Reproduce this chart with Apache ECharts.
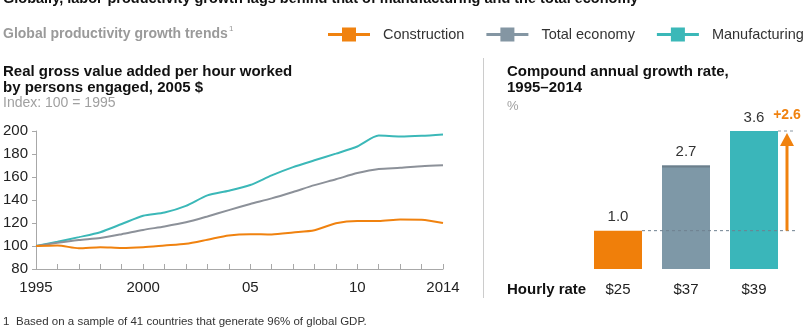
<!DOCTYPE html>
<html lang="en">
<head>
    <meta charset="UTF-8">
    <title>Productivity growth</title>
    <script src="https://cdn.jsdelivr.net/npm/echarts@6/dist/echarts.min.js"></script>
    <style>
        body { margin: 0; background: #fff; }
        #main { width: 810px; height: 331px; }
    </style>
</head>
<body>
<div id="main"></div>
<script type="text/javascript">
    // line chart data, index 100 = 1995
    var years = ['1995','1996','1997','1998','1999','2000','2001','2002','2003','2004',
                 '2005','2006','2007','2008','2009','2010','2011','2012','2013','2014'];
    var construction = [100, 100.5, 98, 99, 98.3, 99, 100.5, 102, 105.5, 109.2,
                        110.3, 110, 111.7, 113.7, 119.7, 121.7, 121.7, 123, 122.9, 120];
    var totalEconomy = [100, 102.8, 105.2, 107, 110.3, 114, 117, 120.6, 125.7, 131.2,
                        136.5, 141.4, 147, 152.9, 158, 163.4, 167, 168, 169.4, 170.3];
    var manufacturing = [100, 103.7, 107.7, 112, 119.1, 126.3, 129.1, 134.9, 144, 148,
                         153, 161.4, 168.6, 174.5, 180.3, 186.5, 196, 195.2, 195.8, 197];
    var tickYears = ['1995', '2000', '2005', '2010', '2014'];
    var tickLabels = ['1995', '2000', '05', '10', '2014'];

    // bar chart data, CAGR 1995-2014 in %
    var hourlyRates = ['$25', '$37', '$39'];
    var cagr = [1.0, 2.7, 3.6];

    var seriesNames = ['Construction', 'Total economy', 'Manufacturing'];
    var lineColors = ['#F0820F', '#8C9199', '#3BB8B8'];
    var legendColors = ['#F0820F', '#8496A3', '#3BB8B8'];
    var barColors = ['#F07F0A', '#7E98A7', '#3AB6BA'];

    var font = '"Liberation Sans", Arial, sans-serif';
    var legendIcon = 'path://M0,5.5H14V0H28V5.5H42V8.5H28V14H14V8.5H0Z';

    var myChart = echarts.init(document.getElementById('main'));

    function txt(x, y, s, size, color, bold) {
        return {
            type: 'text', x: x, y: y, silent: true,
            style: {
                text: s, fontSize: size, fontFamily: font, fill: color,
                fontWeight: bold ? 'bold' : 'normal', verticalAlign: 'middle'
            }
        };
    }

    var lineData = [construction, totalEconomy, manufacturing];
    var series = [];
    for (var i = 0; i < 3; i++) {
        series.push({
            name: seriesNames[i],
            type: 'line',
            xAxisIndex: 0, yAxisIndex: 0,
            data: lineData[i],
            showSymbol: false,
            smooth: 0.25,
            color: legendColors[i],
            lineStyle: { color: lineColors[i], width: 2 },
            z: 3 - i
        });
    }
    series.push({
        type: 'bar',
        xAxisIndex: 1, yAxisIndex: 1,
        barWidth: 48,
        data: cagr.map(function (v, k) {
            return { value: v, itemStyle: { color: barColors[k] } };
        }),
        label: {
            show: true, position: 'top', distance: 6,
            fontSize: 15, fontFamily: font, color: '#333',
            formatter: function (p) { return p.value.toFixed(1); }
        }
    });

    var option = {
        animation: false,
        textStyle: { fontFamily: font },
        legend: {
            data: seriesNames.map(function (n) { return { name: n, icon: legendIcon }; }),
            left: 328, top: 27, padding: 0,
            itemWidth: 42, itemHeight: 14, itemGap: 22,
            textStyle: { fontSize: 14.5, color: '#333', fontFamily: font, padding: [0, 0, 0, 8] },
            selectedMode: false
        },
        grid: [
            { left: 33, top: 131, width: 410, height: 138 },
            { left: 584, top: 131, width: 204, height: 138 }
        ],
        xAxis: [
            {
                gridIndex: 0, type: 'category', data: years, boundaryGap: false,
                axisLine: { lineStyle: { color: '#A8A8A8' } },
                axisTick: { inside: true, length: 5, interval: 0, lineStyle: { color: '#A8A8A8' } },
                axisLabel: {
                    interval: 0, fontSize: 15, color: '#222', margin: 11,
                    formatter: function (v) {
                        var k = tickYears.indexOf(v);
                        return k >= 0 ? tickLabels[k] : '';
                    }
                }
            },
            {
                gridIndex: 1, type: 'category', data: hourlyRates,
                axisLine: { show: false }, axisTick: { show: false },
                axisLabel: { fontSize: 15, color: '#222', margin: 13 }
            }
        ],
        yAxis: [
            {
                gridIndex: 0, type: 'value', min: 80, max: 200, interval: 20,
                axisLine: { show: true, lineStyle: { color: '#A8A8A8' } },
                axisTick: { show: true, length: 4, lineStyle: { color: '#A8A8A8' } },
                axisLabel: { fontSize: 15, color: '#222', margin: 8 },
                splitLine: { show: false }
            },
            {
                gridIndex: 1, type: 'value', min: 0, max: 3.6, show: false,
                splitLine: { show: false }
            }
        ],
        series: series
    };
    myChart.setOption(option);

    // annotation built from the bar scale
    var lowPt = myChart.convertToPixel({ gridIndex: 1 }, [0, cagr[0]]);
    var midPt = myChart.convertToPixel({ gridIndex: 1 }, [1, cagr[1]]);
    var highPt = myChart.convertToPixel({ gridIndex: 1 }, [2, cagr[2]]);
    var xEnd = highPt[0] + 41;
    var xArrow = highPt[0] + 33;
    var diff = '+' + (cagr[2] - cagr[0]).toFixed(1);

    var graphics = [
        {
            type: 'text', x: 3, y: -1, silent: true,
            style: {
                text: 'Globally, labor-productivity growth lags behind that of manufacturing and the total economy',
                fontSize: 14.5, fontWeight: 'bold', fontFamily: font, fill: '#111', verticalAlign: 'middle'
            }
        },
        txt(3, 34, 'Global productivity growth trends', 14, '#9A9A9A', true),
        txt(229, 29, '1', 8, '#9A9A9A', false),
        txt(3, 72, 'Real gross value added per hour worked', 15, '#111', true),
        txt(3, 88, 'by persons engaged, 2005 $', 15, '#111', true),
        txt(3, 103, 'Index: 100 = 1995', 14, '#A0A0A0', false),
        {
            type: 'line', silent: true,
            shape: { x1: 483.5, y1: 58, x2: 483.5, y2: 298 },
            style: { stroke: '#CCCCCC', lineWidth: 1 }
        },
        txt(507, 72, 'Compound annual growth rate,', 15, '#111', true),
        txt(507, 88, '1995\u20132014', 15, '#111', true),
        txt(507, 106, '%', 13, '#A0A0A0', false),
        txt(507, 290, 'Hourly rate', 15, '#111', true),
        {
            // darker cap on top of the middle bar
            type: 'line', silent: true, z: 10,
            shape: { x1: midPt[0] - 24, y1: midPt[1] + 1, x2: midPt[0] + 24, y2: midPt[1] + 1 },
            style: { stroke: '#6C7F8B', lineWidth: 2 }
        },
        {
            type: 'line', silent: true, z: 10,
            shape: { x1: lowPt[0] + 24, y1: lowPt[1], x2: xEnd, y2: lowPt[1] },
            style: { stroke: '#6F8090', lineWidth: 1, lineDash: [3, 3] }
        },
        {
            type: 'line', silent: true, z: 10,
            shape: { x1: highPt[0] + 24, y1: highPt[1], x2: xEnd, y2: highPt[1] },
            style: { stroke: '#8A98A4', lineWidth: 1, lineDash: [3, 3] }
        },
        {
            type: 'line', silent: true, z: 11,
            shape: { x1: xArrow, y1: lowPt[1], x2: xArrow, y2: highPt[1] + 12 },
            style: { stroke: '#F0820F', lineWidth: 3 }
        },
        {
            type: 'polygon', silent: true, z: 11,
            shape: { points: [[xArrow - 7, highPt[1] + 15], [xArrow, highPt[1] + 2], [xArrow + 7, highPt[1] + 15]] },
            style: { fill: '#F0820F' }
        },
        {
            type: 'text', x: xArrow, y: highPt[1] - 16, silent: true,
            style: {
                text: diff, fontSize: 14, fontWeight: 'bold', fontFamily: font,
                fill: '#F0820F', align: 'center', verticalAlign: 'middle'
            }
        },
        txt(3, 322, '1', 11.5, '#333', false),
        txt(16, 322, 'Based on a sample of 41 countries that generate 96% of global GDP.', 11.5, '#333', false)
    ];
    myChart.setOption({ graphic: graphics });
</script>
</body>
</html>
